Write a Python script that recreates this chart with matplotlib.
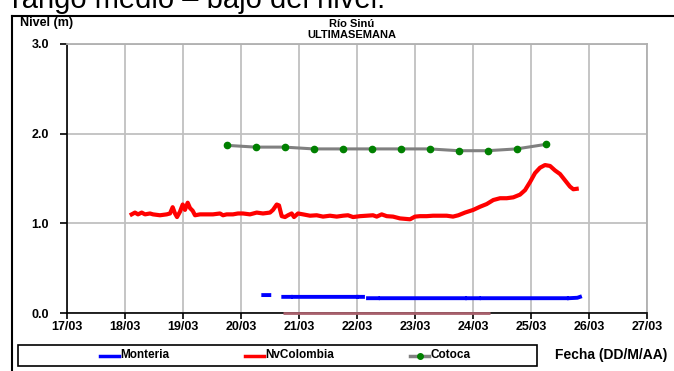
import matplotlib
matplotlib.use("Agg")
import matplotlib.pyplot as plt
from matplotlib.lines import Line2D
from matplotlib.patches import Rectangle
import numpy as np

plt.rcParams['font.family'] = ['Liberation Sans', 'DejaVu Sans']

W, H = 674, 371

# x values are days counted from 17/03 00:00
day_labels = ["17/03", "18/03", "19/03", "20/03", "21/03", "22/03",
              "23/03", "24/03", "25/03", "26/03", "27/03"]

cotoca_t = [2.75, 3.25, 3.75, 4.25, 4.75, 5.25, 5.75, 6.25, 6.75, 7.25, 7.75, 8.25]
cotoca_v = [1.87, 1.85, 1.85, 1.83, 1.83, 1.83, 1.83, 1.83, 1.81, 1.81, 1.83, 1.88]

nvcol_t = [1.115, 1.172, 1.224, 1.288, 1.345, 1.431, 1.483, 1.603, 1.719, 1.776,
           1.822, 1.862, 1.897, 1.948, 1.995, 2.034, 2.081, 2.121, 2.167, 2.207,
           2.293, 2.409, 2.517, 2.638, 2.690, 2.753, 2.862, 2.948, 3.034, 3.155,
           3.271, 3.379, 3.500, 3.552, 3.616, 3.655, 3.702, 3.759, 3.810, 3.874,
           3.914, 3.983, 4.069, 4.190, 4.305, 4.414, 4.534, 4.650, 4.759, 4.845,
           4.931, 5.052, 5.167, 5.276, 5.340, 5.426, 5.512, 5.621, 5.741, 5.828,
           5.914, 6.000, 6.086, 6.202, 6.310, 6.431, 6.547, 6.655, 6.747, 6.862,
           7.005, 7.121, 7.236, 7.350, 7.466, 7.581, 7.695, 7.810, 7.897, 7.983,
           8.069, 8.155, 8.241, 8.328, 8.414, 8.500, 8.586, 8.672, 8.729, 8.788]
nvcol_v = [1.10, 1.12, 1.10, 1.12, 1.10, 1.11, 1.10, 1.09, 1.10, 1.11,
           1.18, 1.11, 1.07, 1.13, 1.21, 1.15, 1.23, 1.17, 1.14, 1.09,
           1.10, 1.10, 1.10, 1.11, 1.09, 1.10, 1.10, 1.11, 1.11, 1.10,
           1.12, 1.11, 1.12, 1.15, 1.21, 1.20, 1.08, 1.07, 1.09, 1.11,
           1.07, 1.11, 1.10, 1.085, 1.09, 1.075, 1.085, 1.075, 1.085, 1.09,
           1.07, 1.08, 1.085, 1.09, 1.075, 1.10, 1.08, 1.075, 1.055, 1.05,
           1.045, 1.075, 1.08, 1.08, 1.085, 1.085, 1.085, 1.075, 1.09, 1.12,
           1.15, 1.185, 1.215, 1.26, 1.28, 1.28, 1.29, 1.32, 1.37, 1.46,
           1.56, 1.62, 1.65, 1.64, 1.59, 1.55, 1.48, 1.41, 1.38, 1.385]

# gaps in the Monteria record are NaN
monteria_t = [3.384, 3.488, 3.60, 3.729, 3.862, 3.88, 3.897, 4.995, 5.005,
              5.017, 5.103, 5.15, 5.19, 5.362, 5.39, 5.409, 6.862, 6.88,
              6.897, 7.103, 7.13, 7.15, 8.616, 8.64, 8.655, 8.80, 8.845]
monteria_v = [0.20, 0.20, np.nan, 0.18, 0.18, np.nan, 0.18, 0.18, np.nan,
              0.18, 0.18, np.nan, 0.165, 0.165, np.nan, 0.165, 0.165, np.nan,
              0.165, 0.165, np.nan, 0.165, 0.165, np.nan, 0.165, 0.17, 0.18]

zero_t = [3.72, 7.29]
zero_v = [0.0, 0.0]

fig = plt.figure(figsize=(W / 100, H / 100), dpi=100)
ax = fig.add_axes([67 / W, 1 - 313 / H, (647 - 67) / W, (313 - 44) / H])

ax.plot(zero_t, zero_v, color='#a8606c', lw=2.0, solid_capstyle='butt',
        zorder=4, clip_on=False)
ax.plot(monteria_t, monteria_v, color='#0000ff', lw=2.8, zorder=3)
ax.plot(nvcol_t, nvcol_v, color='#ff0000', lw=3.0, zorder=3)
ax.plot(cotoca_t, cotoca_v, color='#808080', lw=2.2, zorder=3,
        marker='o', markersize=4.5, markerfacecolor='#008000',
        markeredgecolor='#008000')

ax.set_xlim(0, 10)
ax.set_ylim(0, 3)
ax.set_xticks(range(len(day_labels)))
ax.set_xticklabels(day_labels)
ax.set_yticks([0, 1, 2, 3])
ax.set_yticklabels(["0.0", "1.0", "2.0", "3.0"])
ax.grid(True, color='#c0c0c0', lw=1.3)
ax.set_axisbelow(True)
ax.tick_params(direction='out', length=4, width=1.2, color='black',
               labelsize=9, pad=2)
ax.tick_params(axis='y', length=5, pad=8)
for lbl in ax.get_xticklabels() + ax.get_yticklabels():
    lbl.set_fontweight('bold')
for side in ('top', 'right'):
    ax.spines[side].set_color('#b0b0b0')
    ax.spines[side].set_linewidth(1.3)
for side in ('left', 'bottom'):
    ax.spines[side].set_color('black')
    ax.spines[side].set_linewidth(1.2)

# heading text partly above the frame
fig.text(12 / W, 1 - 8 / H, "rango medio – bajo del nivel.", fontsize=21,
         va='baseline', ha='left')

# outer frame
fig.add_artist(Line2D([12 / W, 1], [1 - 16 / H, 1 - 16 / H], color='black', lw=1.5))
fig.add_artist(Line2D([12 / W, 12 / W], [0, 1 - 16 / H], color='black', lw=1.5))

fig.text(20 / W, 1 - 23 / H, "Nivel (m)", fontsize=9, fontweight='bold', va='center')
fig.text(352 / W, 1 - 24 / H, "Río Sinú", fontsize=8, fontweight='bold',
         va='center', ha='center')
fig.text(352 / W, 1 - 34.5 / H, "ULTIMASEMANA", fontsize=8, fontweight='bold',
         va='center', ha='center')

# legend box
fig.add_artist(Rectangle((18 / W, 1 - 366 / H), (537 - 18) / W, 21 / H,
                         fill=False, edgecolor='black', lw=1.2))
ly = 1 - 355.5 / H
entries = [("Monteria", '#0000ff', None, 100),
           ("NvColombia", '#ff0000', None, 245),
           ("Cotoca", '#808080', '#008000', 410)]
for name, col, mcol, x0 in entries:
    fig.add_artist(Line2D([x0 / W, (x0 + 19) / W], [ly, ly], color=col, lw=2.5))
    if mcol:
        fig.add_artist(Line2D([(x0 + 9.5) / W], [ly], marker='o', markersize=4,
                              color=mcol, lw=0))
    fig.text((x0 + 20) / W, ly, name, fontsize=8.5, fontweight='bold', va='center')

fig.text(555 / W, ly, "Fecha (DD/M/AA)", fontsize=10, fontweight='bold', va='center')

fig.savefig("out.png", dpi=100)
